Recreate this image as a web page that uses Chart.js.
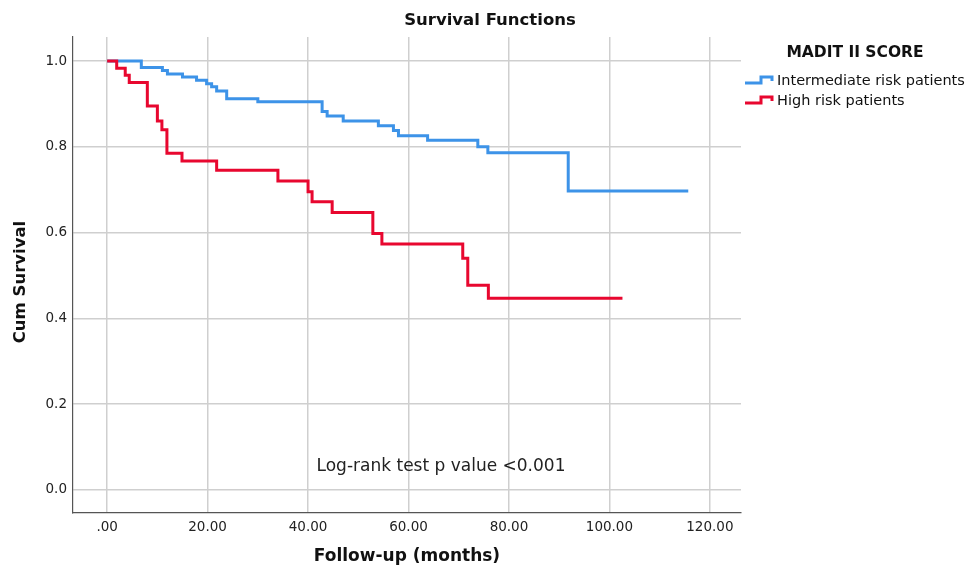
<!DOCTYPE html>
<html>
<head>
<meta charset="utf-8">
<title>Survival Functions</title>
<script src="https://cdn.jsdelivr.net/npm/chart.js@4.4.1/dist/chart.umd.min.js"></script>
<style>
	body { margin: 0; background: #fff; }
	canvas { display: block; }
</style>
</head>
<body>
<canvas id="survivalChart" width="979" height="571"></canvas>
<script>
const blueColor = '#3d93e8'
const redColor = '#e8072f'
const gridColor = '#cfcfcf'
const axisColor = '#555555'

// Intermediate risk patients (time in months, cum survival after the step)
const intermediateTime = [0, 6.8, 11, 12, 15, 17.8, 19.8, 20.8, 21.8, 23.8, 30, 42.8, 43.8, 47, 54, 57, 58, 63.8, 73.8, 75.8, 91.8, 115.7]
const intermediateSurv = [1.0, 0.985, 0.978, 0.97, 0.963, 0.955, 0.947, 0.94, 0.93, 0.912, 0.905, 0.882, 0.872, 0.86, 0.849, 0.838, 0.826, 0.815, 0.8, 0.786, 0.697, 0.697]

// High risk patients
const highTime = [0, 1.9, 3.6, 4.4, 8, 10, 10.9, 11.9, 14.9, 21.8, 34, 40, 40.8, 44.8, 52.9, 54.7, 70.8, 71.8, 75.9, 102.6]
const highSurv = [1.0, 0.983, 0.967, 0.95, 0.895, 0.86, 0.84, 0.785, 0.767, 0.745, 0.72, 0.695, 0.672, 0.647, 0.598, 0.573, 0.54, 0.477, 0.447, 0.447]

const xTicks = [0, 20, 40, 60, 80, 100, 120]
const xTickLabels = ['.00', '20.00', '40.00', '60.00', '80.00', '100.00', '120.00']
const yTicks = [0, 0.2, 0.4, 0.6, 0.8, 1.0]
const yTickLabels = ['0.0', '0.2', '0.4', '0.6', '0.8', '1.0']

const seriesNames = ['Intermediate risk patients', 'High risk patients']
const legendTitle = 'MADIT II SCORE'
const chartTitle = 'Survival Functions'
const xTitle = 'Follow-up (months)'
const yTitle = 'Cum Survival'
const noteText = 'Log-rank test p value <0.001'

function toPoints(times, values) {
	var pts = []
	for (var i = 0; i < times.length; i++) {
		pts.push({ x: times[i], y: values[i] })
	}
	return pts
}

// titles, legend and the log-rank note
var annotations = {
	id: 'annotations',
	afterDraw: function (chart) {
		var ctx = chart.ctx
		var area = chart.chartArea
		ctx.save()
		ctx.fillStyle = '#111'
		ctx.textBaseline = 'middle'
		ctx.textAlign = 'center'

		ctx.font = 'bold 16.5px "DejaVu Sans"'
		ctx.fillText(chartTitle, 490, 21)

		ctx.font = 'bold 17px "DejaVu Sans"'
		ctx.fillText(xTitle, (area.left + area.right) / 2, 557)

		ctx.save()
		ctx.translate(21, 282)
		ctx.rotate(-Math.PI / 2)
		ctx.font = 'bold 16.5px "DejaVu Sans"'
		ctx.fillText(yTitle, 0, 0)
		ctx.restore()

		ctx.font = '17px "DejaVu Sans"'
		ctx.fillStyle = '#222'
		ctx.fillText(noteText, 441, 467)

		// legend
		ctx.fillStyle = '#111'
		ctx.font = 'bold 15.5px "DejaVu Sans"'
		ctx.fillText(legendTitle, 855, 53)

		ctx.textAlign = 'left'
		ctx.font = '14.5px "DejaVu Sans"'
		var ys = [80, 100]
		var datasets = chart.data.datasets
		for (var i = 0; i < datasets.length; i++) {
			var y = ys[i]
			ctx.strokeStyle = datasets[i].borderColor
			ctx.lineWidth = 3
			ctx.beginPath()
			ctx.moveTo(745, y + 3)
			ctx.lineTo(761, y + 3)
			ctx.lineTo(761, y - 3)
			ctx.lineTo(772, y - 3)
			ctx.lineTo(772, y + 1)
			ctx.stroke()
			ctx.fillStyle = '#111'
			ctx.fillText(datasets[i].label, 777, y + 1)
		}
		ctx.restore()
	}
}

var ctx = document.getElementById('survivalChart')

var survivalChart = new Chart(ctx, {
	type: 'line',
	data: {
		datasets: [{
			label: seriesNames[0],
			data: toPoints(intermediateTime, intermediateSurv),
			borderColor: blueColor,
			borderWidth: 3,
			pointRadius: 0,
			stepped: true,
			fill: false,
			order: 2,
		}, {
			label: seriesNames[1],
			data: toPoints(highTime, highSurv),
			borderColor: redColor,
			borderWidth: 3,
			pointRadius: 0,
			stepped: true,
			fill: false,
			order: 1,
		}]
	},
	options: {
		responsive: false,
		animation: false,
		layout: { padding: { top: 37, right: 238, left: 0, bottom: 0 } },
		plugins: {
			legend: { display: false },
			title: { display: false },
			tooltip: { enabled: false },
		},
		scales: {
			x: {
				type: 'linear',
				min: -6.8,
				max: 126.2,
				afterBuildTicks: function (scale) {
					scale.ticks = xTicks.map(function (v) { return { value: v } })
				},
				afterFit: function (scale) { scale.height = 58 },
				grid: { color: gridColor, lineWidth: 1.5, drawTicks: false },
				border: { display: true, color: axisColor, width: 1.2 },
				ticks: {
					padding: 6,
					color: '#222',
					font: { family: 'DejaVu Sans', size: 13.5 },
					callback: function (value) {
						return xTickLabels[xTicks.indexOf(value)]
					}
				}
			},
			y: {
				min: -0.054,
				max: 1.056,
				afterBuildTicks: function (scale) {
					scale.ticks = yTicks.map(function (v) { return { value: v } })
				},
				afterFit: function (scale) { scale.width = 73 },
				grid: { color: gridColor, lineWidth: 1.5, drawTicks: false },
				border: { display: true, color: axisColor, width: 1.2 },
				ticks: {
					padding: 6,
					color: '#222',
					font: { family: 'DejaVu Sans', size: 13.5 },
					callback: function (value) {
						return yTickLabels[yTicks.indexOf(value)]
					}
				}
			}
		}
	},
	plugins: [annotations]
})
</script>
</body>
</html>
